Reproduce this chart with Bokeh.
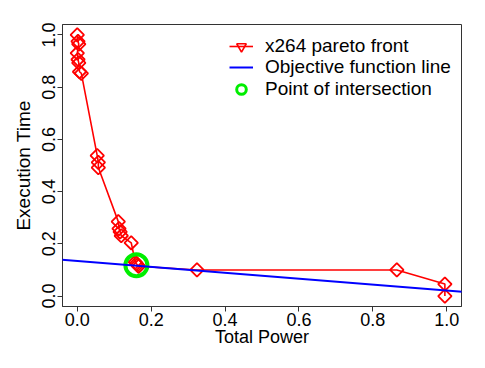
import math
from bokeh.plotting import figure
from bokeh.models import Range1d, Slope, Legend, LegendItem, ColumnDataSource, FixedTicker
from bokeh.embed import file_html
from bokeh.resources import INLINE

# Pareto front (normalized total power vs normalized execution time)
power = [0.000, 0.002, 0.004, 0.000, 0.002, 0.004, 0.006, 0.011,
         0.054, 0.057, 0.057,
         0.111, 0.113, 0.116, 0.119, 0.146, 0.157, 0.160, 0.163, 0.166,
         0.324, 0.865, 0.995, 0.995]
exec_time = [1.000, 0.975, 0.965, 0.930, 0.906, 0.893, 0.859, 0.853,
             0.538, 0.512, 0.492,
             0.285, 0.258, 0.246, 0.231, 0.204, 0.130, 0.124, 0.119, 0.114,
             0.100, 0.100, 0.046, 0.000]

# Objective function line
obj_intercept = 0.134
obj_gradient = -0.1125

# Point of intersection
ix = [0.160]
iy = [0.118]

x_ticks = [0.0, 0.2, 0.4, 0.6, 0.8, 1.0]
y_ticks = [0.0, 0.2, 0.4, 0.6, 0.8, 1.0]

legend_labels = ["x264 pareto front", "Objective function line", "Point of intersection"]

FONT = "Liberation Sans"
NAN = float("nan")
GREEN = "#00ee00"

p = figure(frame_width=399, frame_height=282,
           min_border_left=62, min_border_right=10,
           min_border_top=24, min_border_bottom=55,
           x_range=Range1d(-0.04, 1.04), y_range=Range1d(-0.04, 1.04),
           output_backend="svg", toolbar_location=None,
           background_fill_color="white", border_fill_color="white")

p.grid.visible = False
p.outline_line_color = "#333333"
p.outline_line_width = 1

for ax in (p.xaxis[0], p.yaxis[0]):
    ax.axis_line_color = "#333333"
    ax.major_tick_line_color = "#333333"
    ax.minor_tick_line_color = None
    ax.major_tick_out = 5
    ax.major_tick_in = 0
    ax.major_label_text_font = FONT
    ax.major_label_text_font_size = "18px"
    ax.major_label_text_color = "black"
    ax.axis_label_text_font = FONT
    ax.axis_label_text_font_size = "18px"
    ax.axis_label_text_font_style = "normal"
    ax.axis_label_text_color = "black"

p.xaxis[0].ticker = FixedTicker(ticks=x_ticks)
p.yaxis[0].ticker = FixedTicker(ticks=y_ticks)
p.xaxis[0].major_label_overrides = {t: f"{t:.1f}" for t in x_ticks}
p.yaxis[0].major_label_overrides = {t: f"{t:.1f}" for t in y_ticks}
p.yaxis[0].major_label_orientation = "vertical"
p.xaxis[0].axis_label = "Total Power"
p.yaxis[0].axis_label = "Execution Time"
p.yaxis[0].axis_label_text_font_size = "19px"
p.xaxis[0].major_label_standoff = 1
p.yaxis[0].major_label_standoff = 2
p.xaxis[0].axis_label_standoff = -2
p.yaxis[0].axis_label_standoff = 6

src = ColumnDataSource(dict(x=power, y=exec_time))
front_line = p.line("x", "y", source=src, line_color="red", line_width=1.6)
p.scatter("x", "y", source=src, marker="square", angle=math.pi / 4, size=9.5,
          fill_color=None, line_color="red", line_width=1.8)

obj = Slope(gradient=obj_gradient, y_intercept=obj_intercept,
            line_color="blue", line_width=2)
p.add_layout(obj)

p.scatter(ix, iy, marker="circle", size=22, fill_color=None,
          line_color=GREEN, line_width=4)

# legend-only glyphs (not visible in plot)
obj_leg = p.line(x=[NAN, NAN], y=[NAN, NAN], line_color="blue", line_width=2)
tri_leg = p.scatter(x=[NAN], y=[NAN], marker="inverted_triangle", size=11,
                    fill_color=None, line_color="red", line_width=1.6)
circ_leg = p.scatter(x=[NAN], y=[NAN], marker="circle", size=6, fill_color=None,
                     line_color=GREEN, line_width=3)

row_renderers = [[front_line, tri_leg], [obj_leg], [circ_leg]]
row_y = [248.5, 227, 205.5]
for label, rends, ry in zip(legend_labels, row_renderers, row_y):
    lg = Legend(items=[LegendItem(label=label, renderers=rends)], location=(167, ry))
    lg.border_line_color = None
    lg.background_fill_alpha = 0
    lg.label_text_font = FONT
    lg.label_text_font_size = "19px"
    lg.label_text_color = "black"
    lg.glyph_width = 24
    lg.glyph_height = 24
    lg.label_height = 24
    lg.spacing = 0
    lg.padding = 0
    lg.margin = 0
    lg.label_standoff = 12
    p.add_layout(lg, "center")

open("out.html", "w").write(file_html(p, INLINE))
